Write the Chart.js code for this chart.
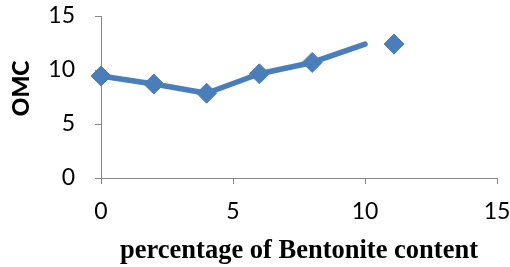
<!DOCTYPE html>
<html>
<head>
<meta charset="utf-8">
<script src="https://cdn.jsdelivr.net/npm/chart.js@4"></script>
<style>
  body { margin: 0; background: #fff; }
</style>
</head>
<body>
<canvas id="myChart" width="510" height="267"></canvas>
<script>
// line goes from 0 to 10, markers stop at 8 and the last one sits apart at ~11
const lineX = [0, 2, 4, 6, 8, 10];
const lineY = [9.45, 8.7, 7.85, 9.65, 10.7, 12.4];
const markerX = [0, 2, 4, 6, 8, 11.1];
const markerY = [9.45, 8.7, 7.85, 9.65, 10.7, 12.4];
const xTicks = [0, 5, 10, 15];
const yTicks = [0, 5, 10, 15];

const blue = "#4A7EBB";
const axisGray = "#868686";

const toPoints = (xs, ys) => xs.map((x, i) => ({ x: x, y: ys[i] }));

const data = {
  datasets: [
    {
      label: "OMC line",
      data: toPoints(lineX, lineY),
      borderColor: blue,
      borderWidth: 5.5,
      borderCapStyle: "round",
      borderJoinStyle: "round",
      pointRadius: 0,
      showLine: true,
      clip: false,
      order: 2,
    },
    {
      label: "OMC",
      data: toPoints(markerX, markerY),
      showLine: false,
      pointStyle: "rectRot",
      pointRadius: 10,
      pointBackgroundColor: blue,
      pointBorderColor: blue,
      pointBorderWidth: 1,
      clip: false,
      order: 1,
    },
  ],
};

function axis(ticks, titleText, titleFont, titlePadding) {
  return {
    type: "linear",
    min: ticks[0],
    max: ticks[ticks.length - 1],
    afterBuildTicks: (s) => { s.ticks = ticks.map((v) => ({ value: v })); },
    grid: {
      drawOnChartArea: false,
      drawTicks: true,
      tickLength: 6,
      color: axisGray,
    },
    border: { display: true, color: axisGray, width: 1 },
    ticks: {
      color: "#000",
      font: { family: "Lato", size: 23 },
      padding: 0,
    },
    title: {
      display: true,
      text: titleText,
      color: "#000",
      font: titleFont,
      padding: titlePadding,
    },
  };
}

const xScale = axis(xTicks, "percentage of Bentonite content",
  { family: "Liberation Serif", size: 26.5, weight: "bold" }, { top: 0, bottom: 0 });
xScale.ticks.padding = 14;
xScale.afterFit = (s) => {
  s.height = 89;
  s.paddingLeft = 0;
  s.paddingRight = 13;
};

// em space in front nudges the rotated title up a bit, like in the original
const yScale = axis(yTicks, "\u2003OMC",
  { family: "Lato", size: 23, weight: "900" }, { top: 8, bottom: 0 });
yScale.ticks.padding = 20;
yScale.afterFit = (s) => {
  s.width = 101;
  s.paddingTop = 16;
  s.paddingBottom = 0;
};

const config = {
  type: "scatter",
  data: data,
  options: {
    responsive: false,
    animation: false,
    layout: { padding: 0 },
    plugins: {
      legend: { display: false },
      tooltip: { enabled: false },
    },
    scales: { x: xScale, y: yScale },
  },
};

const myChart = new Chart(document.getElementById("myChart"), config);
</script>
</body>
</html>
